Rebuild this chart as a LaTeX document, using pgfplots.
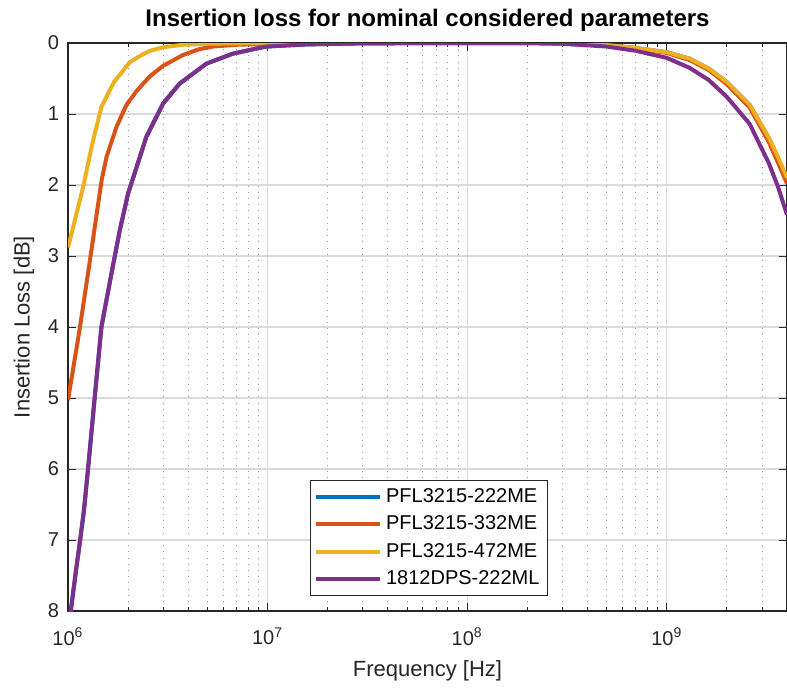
\documentclass[border=0pt]{standalone}
\usepackage{fontspec}
\setmainfont{Liberation Sans}
\usepackage{pgfplots}
\pgfplotsset{compat=1.18}
\definecolor{mblue}{RGB}{0,114,189}
\definecolor{morange}{RGB}{217,83,25}
\definecolor{myellow}{RGB}{237,177,32}
\definecolor{mpurple}{RGB}{126,47,142}
\definecolor{maxis}{RGB}{38,38,38}
\begin{document}
\begin{tikzpicture}
\useasboundingbox (-34pt,-39pt) rectangle (359.5pt,305.5pt);
\begin{axis}[
  at={(0,0)}, anchor=south west,
  scale only axis, width=359.5pt, height=284pt,
  xmode=log, xmin=1e6, xmax=4e9, ymin=0, ymax=8, y dir=reverse,
  xtick={1e6,1e7,1e8,1e9},
  xticklabels={10\textsuperscript{6},10\textsuperscript{7},10\textsuperscript{8},10\textsuperscript{9}},
  minor xtick={2e6,3e6,4e6,5e6,6e6,7e6,8e6,9e6,2e7,3e7,4e7,5e7,6e7,7e7,8e7,9e7,2e8,3e8,4e8,5e8,6e8,7e8,8e8,9e8,2e9,3e9},
  ytick={0,1,2,3,4,5,6,7,8},
  yticklabels={0,1,2,3,4,5,6,7,8},
  tick pos=both, tick align=inside,
  major tick length=4pt, minor tick length=2pt,
  every tick/.style={maxis, line width=0.5pt},
  axis line style={maxis, line width=0.6pt},
  grid=both,
  major grid style={black!15, line width=0.6pt},
  minor grid style={black!40, line width=0.5pt, dash pattern=on 0.5pt off 2.6pt},
  ticklabel style={font=\fontsize{10}{12}\selectfont, text=maxis},
  xticklabel style={yshift=-5pt},
  yticklabel style={xshift=-1pt},
  xlabel={Frequency [Hz]}, ylabel={Insertion Loss [dB]},
  label style={font=\fontsize{11}{13}\selectfont, text=maxis},
  xlabel style={yshift=-1pt},
  title={Insertion loss for nominal considered parameters},
  title style={font=\bfseries\fontsize{12}{14}\selectfont, yshift=-4pt},
  legend style={at={(0.336,0.231)}, anchor=north west, font=\fontsize{10}{12}\selectfont,
    draw=maxis, line width=0.5pt, cells={anchor=west}, row sep=1.3pt, inner sep=2pt},
  legend image code/.code={\draw[#1, line width=2pt] (0pt,0pt) -- (32pt,0pt);},
  every axis plot/.append style={line width=2pt},
]
\addplot[mblue] table {
x y
1e6 8.3
1.1e6 7.4
1.148e6 7.02
1.2e6 6.6
1.26e6 6.0
1.36e6 5.0
1.47e6 4.0
1.65e6 3.25
1.82e6 2.63
2e6 2.12
2.47e6 1.32
3e6 0.85
3.63e6 0.57
4.94e6 0.29
6.7e6 0.15
9.8e6 0.05
1.56e7 0.02
3e7 0.005
1e8 0
2e8 0
3e8 0.01
5e8 0.03
7e8 0.07
1e9 0.13
1.3e9 0.22
1.62e9 0.36
2e9 0.55
2.6e9 0.87
3.24e9 1.34
3.6e9 1.62
4e9 1.92
};
\addlegendentry{PFL3215-222ME}
\addplot[morange] table {
x y
1e6 5.03
1.148e6 4.0
1.288e6 3.06
1.474e6 1.93
1.561e6 1.6
1.75e6 1.18
1.965e6 0.87
2.2e6 0.68
2.57e6 0.47
3e6 0.32
3.76e6 0.17
4.5e6 0.09
5.3e6 0.05
7e6 0.025
1.06e7 0.01
2e7 0.002
1e8 0
2e8 0
3e8 0.01
5e8 0.035
7e8 0.075
1e9 0.14
1.3e9 0.24
1.62e9 0.38
2e9 0.58
2.6e9 0.91
3.24e9 1.39
3.6e9 1.68
4e9 1.98
};
\addlegendentry{PFL3215-332ME}
\addplot[myellow] table {
x y
1e6 2.88
1.193e6 2.02
1.313e6 1.46
1.47e6 0.9
1.7e6 0.55
2.04e6 0.27
2.3e6 0.18
2.57e6 0.11
3e6 0.06
3.76e6 0.025
5e6 0.01
7e6 0.004
1e7 0.001
1e8 0
2e8 0
3e8 0.01
5e8 0.03
7e8 0.07
1e9 0.13
1.3e9 0.22
1.62e9 0.36
2e9 0.55
2.6e9 0.87
3.24e9 1.33
3.6e9 1.6
4e9 1.9
};
\addlegendentry{PFL3215-472ME}
\addplot[mpurple] table {
x y
1e6 8.3
1.1e6 7.4
1.148e6 7.02
1.2e6 6.6
1.26e6 6.0
1.36e6 5.0
1.47e6 4.0
1.65e6 3.25
1.82e6 2.63
2e6 2.12
2.47e6 1.32
3e6 0.85
3.63e6 0.57
4.94e6 0.29
6.7e6 0.15
9.8e6 0.05
1.56e7 0.02
3e7 0.005
1e8 0
2e8 0
3e8 0.01
5e8 0.05
7e8 0.11
1e9 0.21
1.3e9 0.35
1.62e9 0.52
2e9 0.76
2.6e9 1.14
3.24e9 1.69
3.6e9 2.02
4e9 2.42
};
\addlegendentry{1812DPS-222ML}
\end{axis}
\end{tikzpicture}
\end{document}
